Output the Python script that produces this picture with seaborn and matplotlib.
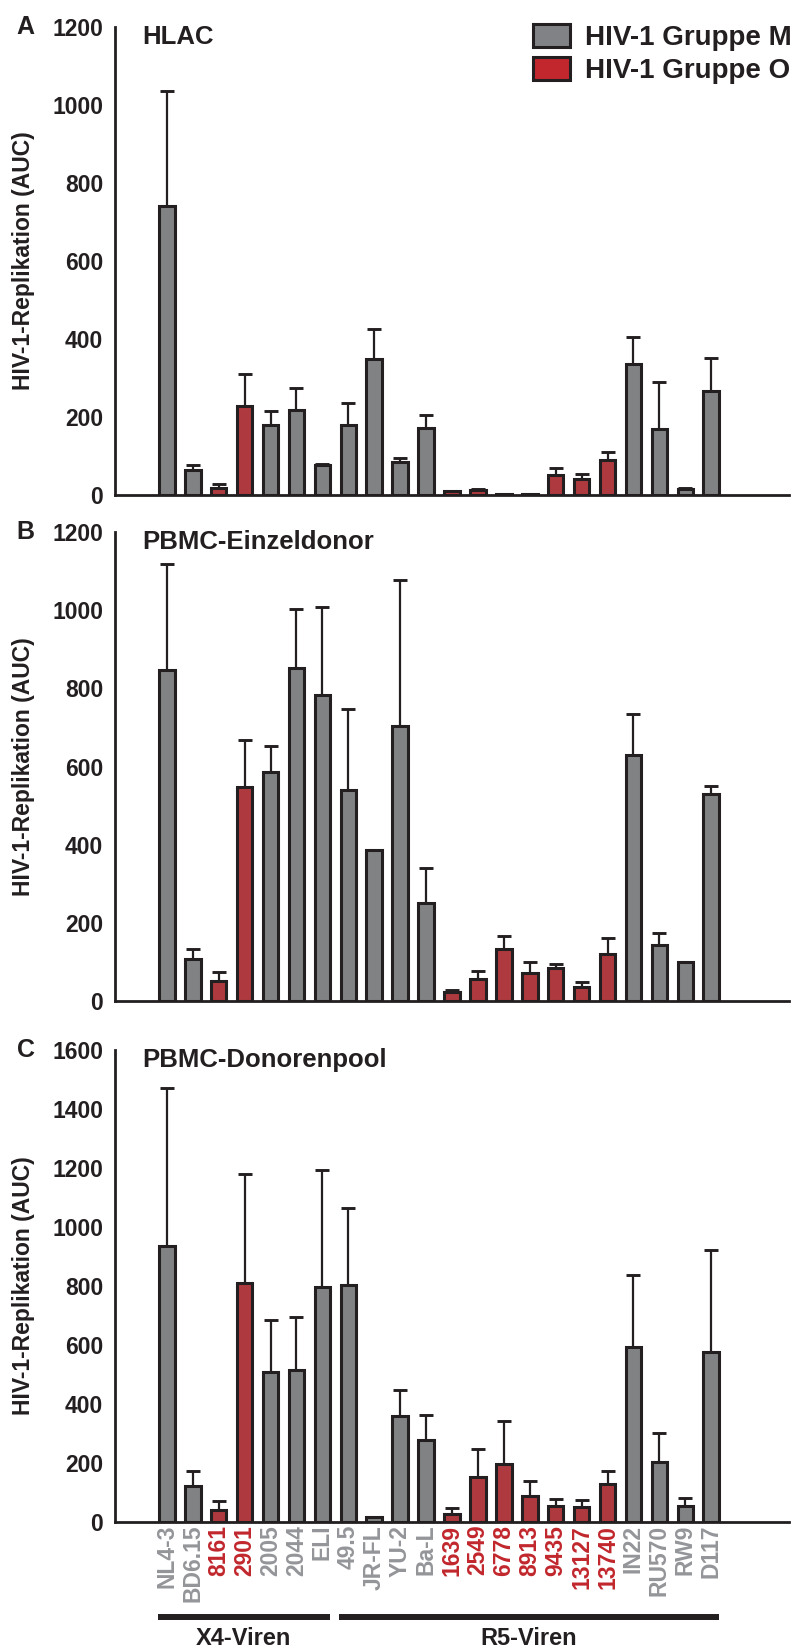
import numpy as np
import pandas as pd
import matplotlib
matplotlib.use("Agg")
import matplotlib.pyplot as plt
import seaborn as sns
from matplotlib.patches import Patch
from matplotlib.transforms import blended_transform_factory

# ---------------- data ----------------
viruses = ["NL4-3", "BD6.15", "8161", "2901", "2005", "2044", "ELI", "49.5",
           "JR-FL", "YU-2", "Ba-L", "1639", "2549", "6778", "8913", "9435",
           "13127", "13740", "IN22", "RU570", "RW9", "D117"]
groups = ["M", "M", "O", "O", "M", "M", "M", "M", "M", "M", "M",
          "O", "O", "O", "O", "O", "O", "O", "M", "M", "M", "M"]
tropism = ["X4"] * 7 + ["R5"] * 15

hlac_mean = [740, 64, 19, 227, 180, 217, 76, 180, 349, 85, 172,
             9, 12, 3, 3, 51, 42, 89, 336, 170, 15, 266]
hlac_upper = [1037, 77, 28, 311, 215, 274, 80, 236, 426, 94, 204,
              11, 15, 3, 3, 70, 53, 109, 406, 291, 19, 351]

single_mean = [846, 107, 52, 548, 585, 853, 782, 540, 386, 703, 250,
               22, 57, 133, 71, 85, 37, 120, 629, 143, 99, 530]
single_upper = [1119, 132, 74, 667, 652, 1004, 1008, 747, 386, 1078, 341,
                28, 77, 166, 101, 95, 48, 160, 734, 175, 100, 551]

pool_mean = [937, 123, 41, 810, 507, 516, 797, 803, 16, 361, 279,
             27, 153, 197, 87, 54, 52, 128, 592, 202, 54, 576]
pool_upper = [1471, 174, 72, 1181, 686, 694, 1194, 1066, 16, 449, 364,
              46, 248, 344, 140, 78, 74, 174, 837, 302, 83, 922]

panel_letters = ["A", "B", "C"]
panel_titles = ["HLAC", "PBMC-Einzeldonor", "PBMC-Donorenpool"]
panel_ymax = [1200, 1200, 1600]
legend_labels = ["HIV-1 Gruppe M", "HIV-1 Gruppe O"]
tropism_labels = {"X4": "X4-Viren", "R5": "R5-Viren"}
ylabel = "HIV-1-Replikation (AUC)"

# ---------------- style ----------------
GRAY = "#808285"
RED = "#c1272d"
EDGE = "#231f20"
LABEL_GRAY = "#939598"
palette = {"M": GRAY, "O": RED}

sns.set_style("white")
plt.rcParams["font.family"] = ["Liberation Sans", "DejaVu Sans"]
plt.rcParams["font.weight"] = "bold"

fig = plt.figure(figsize=(8, 16.47), dpi=100)
H = 1647.0
left, width = 115 / 800, 674 / 800
panel_px = [(27, 495), (532, 1001), (1050, 1522)]

means = [hlac_mean, single_mean, pool_mean]
uppers = [hlac_upper, single_upper, pool_upper]

axes = []
for i in range(3):
    top, bot = panel_px[i]
    ax = fig.add_axes([left, 1 - bot / H, width, (bot - top) / H])
    axes.append(ax)
    df = pd.DataFrame({"virus": viruses, "group": groups, "value": means[i]})
    sns.barplot(data=df, x="virus", y="value", hue="group", order=viruses,
                hue_order=["M", "O"], palette=palette, dodge=False,
                width=0.6, errorbar=None, legend=False, ax=ax,
                edgecolor=EDGE, linewidth=2.2, zorder=2)
    m = np.array(means[i], dtype=float)
    u = np.array(uppers[i], dtype=float)
    x = np.arange(len(viruses))
    sel = u > m
    ax.errorbar(x[sel], m[sel], yerr=[np.zeros(sel.sum()), (u - m)[sel]],
                fmt="none", ecolor=EDGE, elinewidth=1.6, capsize=4.7,
                capthick=2.1, zorder=3, clip_on=False)
    ax.set_xlim(-2.0, 24.0)
    ax.set_ylim(0, panel_ymax[i])
    ax.set_yticks(np.arange(0, panel_ymax[i] + 1, 200))
    ax.set_ylabel(ylabel, fontsize=16.5, fontweight="bold", color=EDGE)
    ax.yaxis.set_label_coords(-0.118, 0.5)
    ax.set_xlabel("")
    for s in ["top", "right"]:
        ax.spines[s].set_visible(False)
    for s in ["left", "bottom"]:
        ax.spines[s].set_linewidth(2.0)
        ax.spines[s].set_color(EDGE)
    ax.tick_params(axis="y", length=5.5, width=2.0, color=EDGE,
                   labelsize=16.5, pad=3, labelcolor=EDGE)
    for t in ax.get_yticklabels():
        t.set_fontweight("bold")
    ax.tick_params(axis="x", length=0, pad=2, labelsize=16.5,
                   labelrotation=90)
    ax.text(0.04, 1.005, panel_titles[i], transform=ax.transAxes,
            ha="left", va="top", fontsize=18.5, fontweight="bold", color=EDGE)
    ax.text(-0.119, 1.0, panel_letters[i], transform=ax.transAxes,
            ha="right", va="center", fontsize=18, fontweight="bold",
            color=EDGE)
    ax.set_xticks(x)
    if i < 2:
        ax.set_xticklabels([])
    else:
        ax.set_xticklabels(viruses)
        for t, g in zip(ax.get_xticklabels(), groups):
            t.set_color(RED if g == "O" else LABEL_GRAY)
            t.set_fontsize(16.5)
            t.set_fontweight("bold")
            t.set_rotation(90)

# legend
handles = [Patch(facecolor=GRAY, edgecolor=EDGE, linewidth=2.2),
           Patch(facecolor=RED, edgecolor=EDGE, linewidth=2.2)]
leg = fig.legend(handles, legend_labels, loc="upper left",
                 bbox_to_anchor=(533 / 800, 1 - 24 / H), frameon=False,
                 prop={"size": 20, "weight": "bold"}, handlelength=1.33,
                 handleheight=0.9, handletextpad=0.55, labelspacing=0.2,
                 borderpad=0, borderaxespad=0)
for t in leg.get_texts():
    t.set_color(EDGE)

# tropism brackets below bottom panel
axc = axes[2]
trans = blended_transform_factory(axc.transData, fig.transFigure)
idx = np.arange(len(viruses))
trop = np.array(tropism)
for key in ["X4", "R5"]:
    ii = idx[trop == key]
    x0, x1 = ii.min() - 0.35, ii.max() + 0.3
    axc.plot([x0, x1], [1 - 1617 / H] * 2, transform=trans, color=EDGE,
             lw=4.3, solid_capstyle="butt", clip_on=False)
    axc.text((x0 + x1) / 2, 1 - 1627 / H, tropism_labels[key],
             transform=trans, ha="center", va="top", fontsize=17,
             fontweight="bold", color=EDGE)

fig.savefig("out.png", dpi=100)
